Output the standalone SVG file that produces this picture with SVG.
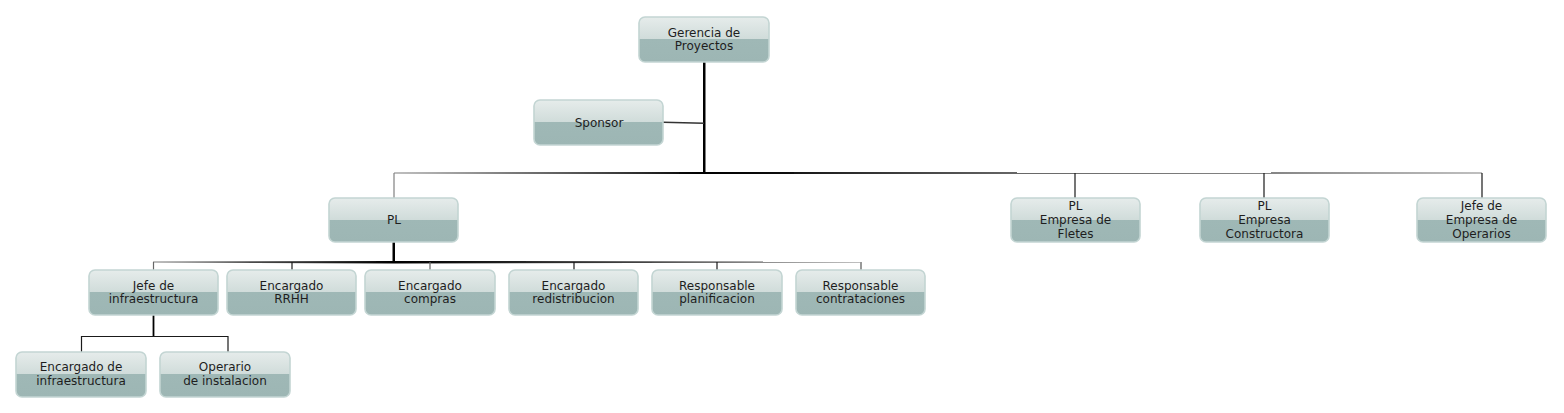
<svg xmlns="http://www.w3.org/2000/svg" width="1564" height="413" viewBox="0 0 1564 413">
<style>
.box{fill:url(#boxg);stroke:#c3d5d3;stroke-width:1.6}
.glow{fill:none;stroke:#e6eeed;stroke-width:1.2}
.t{font-family:"DejaVu Sans",sans-serif;font-size:12px;fill:#1e1e1e;text-anchor:middle}
.v{stroke:#1a1a1a;stroke-width:1.2;fill:none}
</style>
<defs>
<linearGradient id="boxg" x1="0" y1="0" x2="0" y2="1">
<stop offset="0" stop-color="#e6eceb"/>
<stop offset="0.49" stop-color="#d0dcda"/>
<stop offset="0.5" stop-color="#9fb8b6"/>
<stop offset="1" stop-color="#9db6b4"/>
</linearGradient>
<linearGradient id="gl" gradientUnits="userSpaceOnUse" x1="394" y1="0" x2="704" y2="0">
<stop offset="0" stop-color="#808080"/><stop offset="1" stop-color="#000"/>
</linearGradient>
<linearGradient id="gr" gradientUnits="userSpaceOnUse" x1="704" y1="0" x2="1482" y2="0">
<stop offset="0" stop-color="#000"/><stop offset="1" stop-color="#808080"/>
</linearGradient>
<linearGradient id="pl" gradientUnits="userSpaceOnUse" x1="153" y1="0" x2="393" y2="0">
<stop offset="0" stop-color="#808080"/><stop offset="1" stop-color="#000"/>
</linearGradient>
<linearGradient id="pr" gradientUnits="userSpaceOnUse" x1="393" y1="0" x2="860" y2="0">
<stop offset="0" stop-color="#000"/><stop offset="1" stop-color="#808080"/>
</linearGradient>
</defs>

<g id="connectors">
<polygon points="703,62 705.5,62 705.5,174 703,174" fill="#000"/>
<polygon points="663,121.5 704,122.5 704,124 663,123" fill="#333"/>
<polygon points="394,172.5 704,172 704,174 394,173.5" fill="url(#gl)"/>
<polygon points="704,172 1482,172.5 1482,173.5 704,174" fill="url(#gr)"/>
<line x1="394" y1="173" x2="394" y2="198" stroke="#808080" stroke-width="1.2"/>
<line class="v" x1="1075" y1="173" x2="1075" y2="198"/>
<line class="v" x1="1264" y1="173" x2="1264" y2="198"/>
<line class="v" x1="1482" y1="173" x2="1482" y2="198"/>

<polygon points="392.5,242 395,242 395,263 392.5,263" fill="#000"/>
<polygon points="153,261.5 394,261 394,263.5 153,262.5" fill="url(#pl)"/>
<polygon points="394,261 860,261.5 860,262.5 394,263.5" fill="url(#pr)"/>
<line x1="153.5" y1="262" x2="153.5" y2="270" stroke="#666" stroke-width="1.2"/>
<line class="v" x1="292" y1="262" x2="292" y2="270"/>
<line x1="430" y1="262" x2="430" y2="270" stroke="#666" stroke-width="1.2"/>
<line class="v" x1="574" y1="262" x2="574" y2="270"/>
<line class="v" x1="717" y1="262" x2="717" y2="270"/>
<line x1="861" y1="262" x2="861" y2="270" stroke="#555" stroke-width="1.2"/>

<line x1="153.5" y1="315" x2="153.5" y2="337" stroke="#000" stroke-width="1.8"/>
<line class="v" x1="81" y1="336.5" x2="228" y2="336.5"/>
<line class="v" x1="81.5" y1="336" x2="81.5" y2="352"/>
<line class="v" x1="228" y1="336" x2="228" y2="352"/>
</g>

<g id="n-gerencia">
<rect class="box" x="639" y="17" width="130" height="45" rx="6"/>
<text class="t" x="704" y="37">Gerencia de</text>
<text class="t" x="704" y="50">Proyectos</text>
</g>
<g id="n-sponsor">
<rect class="box" x="534" y="100" width="129" height="45" rx="6"/>
<text class="t" x="599" y="127">Sponsor</text>
</g>
<g id="n-pl">
<rect class="box" x="329" y="198" width="129" height="44" rx="6"/>
<text class="t" x="394" y="224">PL</text>
</g>
<g id="n-fletes">
<rect class="box" x="1011" y="198" width="129" height="44" rx="6"/>
<text class="t" x="1075.5" y="210">PL</text>
<text class="t" x="1075.5" y="224">Empresa de</text>
<text class="t" x="1075.5" y="238">Fletes</text>
</g>
<g id="n-constructora">
<rect class="box" x="1200" y="198" width="129" height="44" rx="6"/>
<text class="t" x="1264.5" y="210">PL</text>
<text class="t" x="1264.5" y="224">Empresa</text>
<text class="t" x="1264.5" y="238">Constructora</text>
</g>
<g id="n-operarios">
<rect class="box" x="1417" y="198" width="129" height="44" rx="6"/>
<text class="t" x="1481.5" y="210">Jefe de</text>
<text class="t" x="1481.5" y="224">Empresa de</text>
<text class="t" x="1481.5" y="238">Operarios</text>
</g>
<g id="n-jefe-infra">
<rect class="box" x="89" y="270" width="129" height="45" rx="6"/>
<text class="t" x="153.5" y="290">Jefe de</text>
<text class="t" x="153.5" y="303">infraestructura</text>
</g>
<g id="n-rrhh">
<rect class="box" x="227" y="270" width="129" height="45" rx="6"/>
<text class="t" x="291.5" y="290">Encargado</text>
<text class="t" x="291.5" y="303">RRHH</text>
</g>
<g id="n-compras">
<rect class="box" x="365" y="270" width="130" height="45" rx="6"/>
<text class="t" x="430" y="290">Encargado</text>
<text class="t" x="430" y="303">compras</text>
</g>
<g id="n-redistribucion">
<rect class="box" x="509" y="270" width="129" height="45" rx="6"/>
<text class="t" x="573.5" y="290">Encargado</text>
<text class="t" x="573.5" y="303">redistribucion</text>
</g>
<g id="n-planificacion">
<rect class="box" x="652" y="270" width="130" height="45" rx="6"/>
<text class="t" x="717" y="290">Responsable</text>
<text class="t" x="717" y="303">planificacion</text>
</g>
<g id="n-contrataciones">
<rect class="box" x="796" y="270" width="129" height="45" rx="6"/>
<text class="t" x="860.5" y="290">Responsable</text>
<text class="t" x="860.5" y="303">contrataciones</text>
</g>
<g id="n-enc-infra">
<rect class="box" x="16" y="352" width="130" height="45" rx="6"/>
<text class="t" x="81" y="371">Encargado de</text>
<text class="t" x="81" y="385">infraestructura</text>
</g>
<g id="n-operario">
<rect class="box" x="160" y="352" width="130" height="45" rx="6"/>
<text class="t" x="225" y="371">Operario</text>
<text class="t" x="225" y="385">de instalacion</text>
</g>
</svg>
